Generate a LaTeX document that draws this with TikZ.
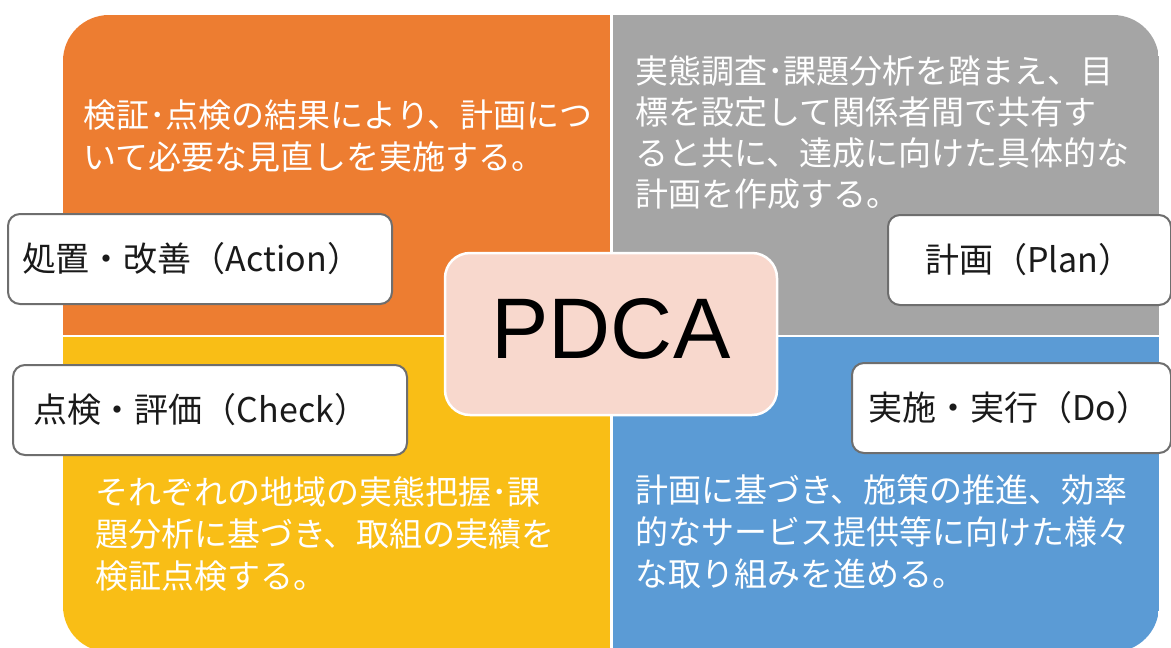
\documentclass[tikz,border=0pt]{standalone}
\usepackage{fontspec}
\setmainfont{Liberation Sans}
\newfontfamily\jp{Noto Sans CJK JP}
\definecolor{qorange}{HTML}{ED7D31}
\definecolor{qgray}{HTML}{A5A5A5}
\definecolor{qyellow}{HTML}{F9BE16}
\definecolor{qblue}{HTML}{5B9BD5}
\definecolor{peach}{HTML}{F8D8CD}
\definecolor{lblborder}{HTML}{6E6E6E}
\definecolor{lbltext}{HTML}{1A1A1A}
\begin{document}
\begin{tikzpicture}[x=1pt,y=-1pt,
  body/.style={text=white, align=left, anchor=north west, inner sep=0pt,
    font=\jp\fontsize{33}{42}\selectfont},
  lbl/.style={draw=lblborder, line width=2pt, fill=white, rounded corners=12pt,
    align=left, minimum height=90pt, text=lbltext,
    font=\jp\fontsize{34}{40}\selectfont},
  centerbox/.style={draw=white, line width=2.5pt, fill=peach, rounded corners=25pt,
    minimum width=332pt, minimum height=162pt, inner sep=0pt, text depth=12pt,
    font=\fontsize{86}{90}\selectfont}]
\useasboundingbox (0,0) rectangle (1171,648);
\fill[white] (0,0) rectangle (1171,648);
% quadrants
\begin{scope}
  \clip[rounded corners=46pt] (63,15) rectangle (1159,652);
  \fill[qorange] (63,15) rectangle (609.5,334.5);
  \fill[qgray]   (612.5,15) rectangle (1159,334.5);
  \fill[qyellow] (63,337) rectangle (609.5,652);
  \fill[qblue]   (612.5,337) rectangle (1159,652);
\end{scope}
% body texts
\node[body] (actText) at (83,100) {検証･点検の結果により、計画につ\\いて必要な見直しを実施する。};
\node[body, font=\jp\fontsize{33}{41}\selectfont] (planText) at (635,55) {実態調査･課題分析を踏まえ、目\\標を設定して関係者間で共有す\\ると共に、達成に向けた具体的な\\計画を作成する。};
\node[body] (checkText) at (95,476) {それぞれの地域の実態把握･課\\題分析に基づき、取組の実績を\\検証点検する。};
\node[body] (doText) at (635,474) {計画に基づき、施策の推進、効率\\的なサービス提供等に向けた様々\\な取り組みを進める。};
% centre
\node[centerbox] (pdca) at (611,334) {PDCA};
% labels
\node[lbl, minimum width=384pt, inner xsep=14pt, text width=356pt] (act) at (200,259) {処置・改善（Action）};
\node[lbl, minimum width=394pt, inner xsep=20pt, text width=354pt] (check) at (210,410) {点検・評価（Check）};
\node[lbl, minimum width=283pt, inner xsep=37pt, text width=209pt] (plan) at (1029.5,260) {計画（Plan）};
\node[lbl, minimum width=319pt, inner xsep=16pt, text width=287pt] (do) at (1011.5,408) {実施・実行（Do）};
\end{tikzpicture}
\end{document}
